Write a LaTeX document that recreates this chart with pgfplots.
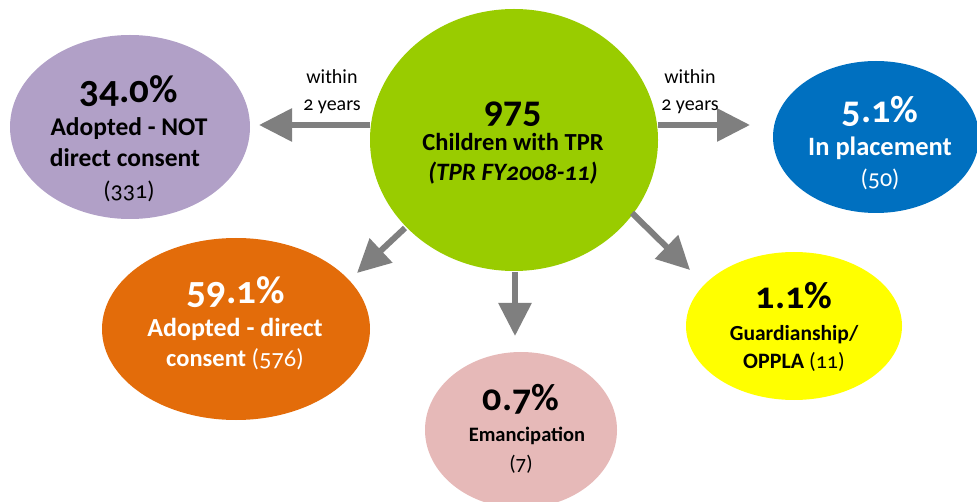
\documentclass[border=0pt]{standalone}
\usepackage{pgfplots}
\pgfplotsset{compat=1.18}
\usepackage{fontspec}
\setmainfont{Carlito}[Numbers=OldStyle]
\usetikzlibrary{arrows.meta}
\definecolor{cpurple}{RGB}{177,160,199}
\definecolor{cgreen}{RGB}{153,204,0}
\definecolor{cblue}{RGB}{0,112,192}
\definecolor{corange}{RGB}{227,108,10}
\definecolor{cpink}{RGB}{230,185,184}
\definecolor{cyellow}{RGB}{255,255,0}
\definecolor{cgray}{RGB}{127,127,127}
\newcommand\fs[1]{\fontsize{#1}{#1}\selectfont}
\begin{document}
\begin{tikzpicture}
\begin{axis}[
  at={(0,0)}, anchor=south west,
  width=977pt, height=502pt, scale only axis,
  xmin=0, xmax=977, ymin=0, ymax=502, y dir=reverse,
  hide axis, clip=true,
]
% ellipses: cx cy rx ry
\fill[cpurple] (axis cs:130,127) ellipse [x radius=120, y radius=92];
\fill[cgreen]  (axis cs:514,140) ellipse [x radius=144, y radius=131];
\fill[cblue]   (axis cs:876,137) ellipse [x radius=103, y radius=76];
\fill[corange] (axis cs:236,329) ellipse [x radius=134, y radius=91];
\fill[cpink]   (axis cs:521,430) ellipse [x radius=96, y radius=78];
\fill[cyellow] (axis cs:794,326) ellipse [x radius=108, y radius=74];
% arrows
\tikzset{garrow/.style={cgray, line width=6pt, -{Triangle[length=33pt, width=32pt]}}}
\draw[garrow] (axis cs:370,125) -- (axis cs:259,125);
\draw[garrow] (axis cs:658,125) -- (axis cs:750,125);
\draw[garrow] (axis cs:405,228) -- (axis cs:357,273);
\draw[garrow] (axis cs:515,272) -- (axis cs:515,336);
\draw[garrow] (axis cs:632,213) -- (axis cs:690,270);
% labels
\tikzset{t/.style={anchor=mid, inner sep=0pt, yshift=-6pt},
         b/.style={anchor=mid, inner sep=0pt, yshift=-8pt}}
\node[t, font=\fs{20}] at (axis cs:332,75) {within};
\node[t, font=\fs{20}] at (axis cs:332,102) {2 years};
\node[t, font=\fs{20}] at (axis cs:690,75) {within};
\node[t, font=\fs{20}] at (axis cs:690,102) {2 years};
% green
\node[b, font=\bfseries\fs{38}] at (axis cs:513,112) {975};
\node[t, font=\bfseries\fs{24.5}] at (axis cs:513,142) {Children with TPR};
\node[t, font=\bfseries\itshape\fs{25}] at (axis cs:513,172) {(TPR FY2008-11)};
% purple
\node[b, font=\bfseries\fs{39}] at (axis cs:129,92) {34.0\%};
\node[t, font=\bfseries\fs{25.5}] at (axis cs:129,127) {Adopted - NOT};
\node[t, font=\bfseries\fs{25.5}] at (axis cs:125,158) {direct consent};
\node[t, font=\fs{24}] at (axis cs:129,190) {(331)};
% blue
\node[b, font=\bfseries\fs{38}, text=white] at (axis cs:880,112) {5.1\%};
\node[t, font=\bfseries\fs{26.5}, text=white] at (axis cs:880,147) {In placement};
\node[t, font=\fs{24}, text=white] at (axis cs:880,178) {(50)};
% orange
\node[b, font=\bfseries\fs{39}, text=white] at (axis cs:236,293) {59.1\%};
\node[t, font=\bfseries\fs{26}, text=white] at (axis cs:235,328) {Adopted - direct};
\node[t, font=\bfseries\fs{24.5}, text=white] at (axis cs:235,358) {consent {\mdseries(576)}};
% pink
\node[b, font=\bfseries\fs{38}] at (axis cs:521,400) {0.7\%};
\node[t, font=\bfseries\fs{20.5}] at (axis cs:527,433) {Emancipation};
\node[t, font=\fs{21}] at (axis cs:521,462) {(7)};
% yellow
\node[b, font=\bfseries\fs{38}] at (axis cs:794,298) {1.1\%};
\node[t, font=\bfseries\fs{21.5}] at (axis cs:794,332) {Guardianship/};
\node[t, font=\bfseries\fs{22}] at (axis cs:794,360) {OPPLA {\mdseries(11)}};
\end{axis}
\pgfresetboundingbox
\path (0,0) rectangle (977pt,502pt);
\end{tikzpicture}
\end{document}
